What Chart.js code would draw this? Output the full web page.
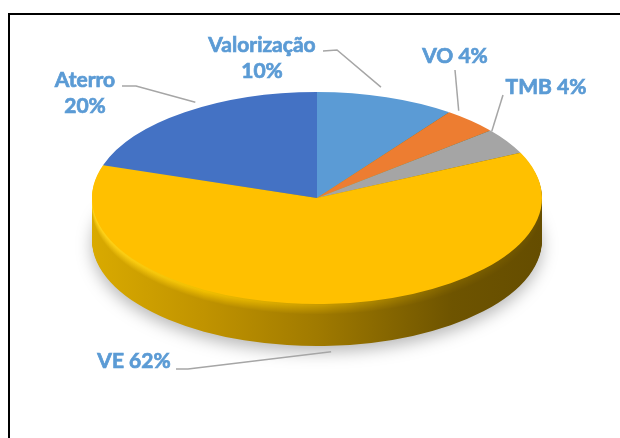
<!DOCTYPE html>
<html>
<head>
<meta charset="utf-8">
<script src="https://cdn.jsdelivr.net/npm/chart.js@4.4.0/dist/chart.umd.min.js"></script>
<style>
body { margin: 0; background: #fff; overflow: hidden; }
#wrap { position: relative; width: 620px; height: 438px; overflow: hidden; }
#frame { position: absolute; left: 8px; top: 13px; width: 700px; height: 500px; border: 2px solid #000; }
#c { position: absolute; left: 0; top: 0; }
</style>
</head>
<body>
<div id="wrap">
  <div id="frame"></div>
  <canvas id="c" width="620" height="438"></canvas>
</div>
<script>
// data
const categories = ['Valorização', 'VO', 'TMB', 'VE', 'Aterro'];
const values = [10, 4, 4, 62, 20];
const labelLines = [['Valorização', '10%'], ['VO 4%'], ['TMB 4%'], ['VE 62%'], ['Aterro', '20%']];
const sliceColors = ['#5B9BD5', '#ED7D31', '#A5A5A5', '#FFC000', '#4472C4'];

// where the tilted disc sits on the page
const disc = { x: 317, y: 198, rx: 225, ry: 106, depth: 42 };

// label text (centre x, baseline y) + elbow points of leader lines
const labelLayout = [
    { x: 262, y: 52, elbow: [[323, 51], [337, 50]] },
    { x: 455, y: 63, elbow: [[455, 70]] },
    { x: 546, y: 94, elbow: [[503, 95]] },
    { x: 134, y: 368, elbow: [[176, 369], [188, 369]] },
    { x: 85, y: 87, elbow: [[122, 86], [136, 86]] },
];

// side shading, left -> right
const sideStops = [0, 0.25, 0.5, 0.8, 1];
const sideDark = ['#D9AA00', '#C09300', '#A07A00', '#6E5400', '#654D00'];
const sideLight = ['#FFD21A', '#F0BE00', '#C99C00', '#7E6100', '#6A5100'];

function hexToRgb(h) {
    const n = parseInt(h.slice(1), 16);
    return [(n >> 16) & 255, (n >> 8) & 255, n & 255];
}
function mix(a, b, t) {
    const p = hexToRgb(a), q = hexToRgb(b);
    return 'rgb(' + p.map((v, i) => Math.round(v + (q[i] - v) * t)).join(',') + ')';
}

function withDisc(ctx, arc, dy) {
    const sx = disc.rx / arc.outerRadius, sy = disc.ry / arc.outerRadius;
    ctx.translate(disc.x, disc.y + dy);
    ctx.scale(sx, sy);
    ctx.translate(-arc.x, -arc.y);
}

function ghost(arc, color) {
    const g = Object.create(arc);
    g.options = Object.assign({}, arc.options, { backgroundColor: color, borderWidth: 0 });
    return g;
}

const tiltPlugin = {
    id: 'tilt',
    beforeDatasetsDraw(chart) {
        const ctx = chart.ctx;
        const arcs = chart.getDatasetMeta(0).data;
        const a0 = arcs[0];
        const r = a0.outerRadius;

        // side of the disc, from bottom up
        for (let d = disc.depth; d >= 1; d--) {
            const t = Math.max(0, Math.min(1, (11 - d) / 9));   // bevel near the top edge
            const grad = ctx.createLinearGradient(a0.x - r, 0, a0.x + r, 0);
            sideStops.forEach((s, i) => grad.addColorStop(s, mix(sideDark[i], sideLight[i], t)));
            ctx.save();
            if (d === disc.depth) {
                ctx.shadowColor = 'rgba(0,0,0,0.28)';
                ctx.shadowBlur = 16;
                ctx.shadowOffsetY = 6;
            }
            withDisc(ctx, a0, d);
            arcs.forEach(a => ghost(a, grad).draw(ctx));
            ctx.restore();
        }

        // top face
        ctx.save();
        withDisc(ctx, a0, 0);
        arcs.forEach(a => a.draw(ctx));
        ctx.restore();
        return false;
    },
    afterDraw(chart) {
        const ctx = chart.ctx;
        const arcs = chart.getDatasetMeta(0).data;
        ctx.save();
        ctx.font = 'bold 21px Lato';
        ctx.textAlign = 'center';
        ctx.textBaseline = 'alphabetic';
        arcs.forEach((a, i) => {
            const mid = (a.startAngle + a.endAngle) / 2;
            const s = Math.sin(mid), c = Math.cos(mid);
            let ax, ay;
            if (s > 0) {
                ax = disc.x + disc.rx * c;
                ay = disc.y + (disc.ry + disc.depth) * s + 6;
            } else {
                // back half looks squeezed by perspective
                ax = disc.x + 0.92 * disc.rx * c;
                ay = disc.y + disc.ry * s - 10;
            }
            const lay = labelLayout[i];
            ctx.strokeStyle = '#A6A6A6';
            ctx.lineWidth = 1.5;
            ctx.beginPath();
            lay.elbow.forEach((p, k) => k ? ctx.lineTo(p[0], p[1]) : ctx.moveTo(p[0], p[1]));
            ctx.lineTo(ax, ay);
            ctx.stroke();

            // text a touch heavier, like the original
            ctx.fillStyle = '#5B9BD5';
            ctx.strokeStyle = '#5B9BD5';
            ctx.lineWidth = 0.7;
            labelLines[i].forEach((txt, k) => {
                ctx.fillText(txt, lay.x, lay.y + k * 26);
                ctx.strokeText(txt, lay.x, lay.y + k * 26);
            });
        });
        ctx.restore();
    }
};

new Chart(document.getElementById('c'), {
    type: 'pie',
    data: {
        labels: categories,
        datasets: [{
            data: values,
            backgroundColor: sliceColors,
            borderWidth: 0,
            clip: false
        }]
    },
    options: {
        responsive: false,
        animation: false,
        events: [],
        layout: { padding: 0 },
        plugins: { legend: { display: false }, tooltip: { enabled: false } }
    },
    plugins: [tiltPlugin]
});
</script>
</body>
</html>
